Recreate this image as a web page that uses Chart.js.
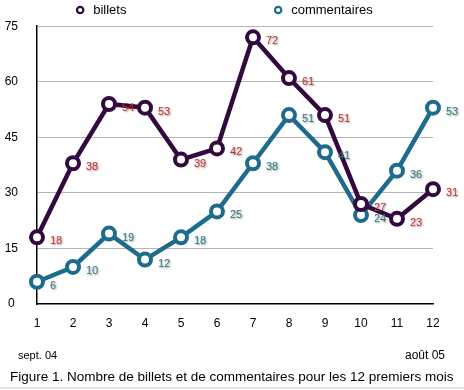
<!DOCTYPE html>
<html>
<head>
<meta charset="utf-8">
<script src="https://cdn.jsdelivr.net/npm/chart.js@4.4.1/dist/chart.umd.min.js"></script>
<style>
    body { margin: 0; background: #fff; }
    .wrap { position: relative; width: 464px; height: 390px; font-family: 'Liberation Sans', Arial, sans-serif; color: #000; }
    .note { position: absolute; font-size: 11px; }
    .caption { position: absolute; left: 10px; top: 369px; font-size: 13.5px; }
    .foot { position: absolute; left: 0; right: 0; top: 387px; height: 2px; background: #e4e4e4; }
</style>
</head>
<body>
<div class="wrap">
    <canvas id="chart" width="464" height="390"></canvas>
    <div class="note" style="left: 18px; top: 349px;">sept. 04</div>
    <div class="note" style="right: 19px; top: 348px; font-size: 12px;">août 05</div>
    <div class="caption">Figure 1. Nombre de billets et de commentaires pour les 12 premiers mois</div>
    <div class="foot"></div>
</div>
<script>
const months = ['1', '2', '3', '4', '5', '6', '7', '8', '9', '10', '11', '12'];
const billets = [18, 38, 54, 53, 39, 42, 72, 61, 51, 27, 23, 31];
const commentaires = [6, 10, 19, 12, 18, 25, 38, 51, 41, 24, 36, 53];
const yTicks = [0, 15, 30, 45, 60, 75];

const billetsColor = '#330a3f';
const commentairesColor = '#1f6b8e';
const fontFamily = "'Liberation Sans', Arial, sans-serif";

const legendPlugin = {
    id: 'splitLegend',
    afterDraw(chart) {
        const { ctx, chartArea } = chart;
        const w = chartArea.right - chartArea.left;
        ctx.save();
        ctx.font = `13px ${fontFamily}`;
        ctx.textBaseline = 'middle';
        ctx.textAlign = 'left';
        chart.data.datasets.forEach((ds, i) => {
            const x = chartArea.left + w * (0.109 + i * 0.5);
            const y = 10;
            ctx.beginPath();
            ctx.arc(x, y, 3.2, 0, Math.PI * 2);
            ctx.fillStyle = '#fff';
            ctx.fill();
            ctx.lineWidth = 2.2;
            ctx.strokeStyle = ds.borderColor;
            ctx.stroke();
            ctx.fillStyle = '#000';
            ctx.fillText(ds.label, x + 13, y);
        });
        ctx.restore();
    },
};

const valueLabelsPlugin = {
    id: 'valueLabels',
    afterDatasetsDraw(chart) {
        const { ctx } = chart;
        ctx.save();
        ctx.font = `11px ${fontFamily}`;
        ctx.textAlign = 'left';
        ctx.textBaseline = 'middle';
        ctx.shadowColor = 'rgba(0, 0, 0, 0.45)';
        ctx.shadowBlur = 2;
        ctx.shadowOffsetX = 1;
        ctx.shadowOffsetY = 1;
        chart.data.datasets.forEach((ds, i) => {
            const meta = chart.getDatasetMeta(i);
            ctx.fillStyle = ds.labelColor;
            meta.data.forEach((pt, j) => {
                ctx.fillText(String(ds.data[j]), pt.x + 13, pt.y + 4);
            });
        });
        ctx.restore();
    },
};

const lineStyle = {
    borderWidth: 4.5,
    pointRadius: 6,
    pointBorderWidth: 4,
    pointBackgroundColor: '#fff',
    tension: 0,
    clip: false,
};

new Chart(document.getElementById('chart'), {
    type: 'line',
    data: {
        labels: months,
        datasets: [
            {
                ...lineStyle,
                label: 'billets',
                data: billets,
                borderColor: billetsColor,
                pointBorderColor: billetsColor,
                labelColor: '#cf2b2b',
            },
            {
                ...lineStyle,
                label: 'commentaires',
                data: commentaires,
                borderColor: commentairesColor,
                pointBorderColor: commentairesColor,
                labelColor: '#2c7a84',
            },
        ],
    },
    options: {
        responsive: false,
        animation: false,
        events: [],
        layout: {
            padding: { left: 0, top: 26, right: 31, bottom: 56 },
        },
        scales: {
            x: {
                offset: false,
                grid: { display: false, drawTicks: false },
                border: { display: true, color: '#000', width: 1.5 },
                ticks: {
                    color: '#000',
                    font: { family: fontFamily, size: 12 },
                    padding: 12,
                    maxRotation: 0,
                    autoSkip: false,
                },
                afterFit(scale) { scale.height = 30; },
            },
            y: {
                min: 0,
                max: 75,
                afterBuildTicks(scale) {
                    scale.ticks = yTicks.map((v) => ({ value: v }));
                },
                grid: {
                    drawTicks: false,
                    color: (c) => (c.tick && c.tick.value === 0 ? 'rgba(0,0,0,0)' : '#b4b4b4'),
                    lineWidth: 1,
                },
                border: { display: true, color: '#000', width: 1.5 },
                ticks: {
                    color: '#000',
                    font: { family: fontFamily, size: 12 },
                    crossAlign: 'center',
                    padding: 19,
                },
                afterFit(scale) { scale.width = 37; },
            },
        },
        plugins: {
            legend: { display: false },
            tooltip: { enabled: false },
        },
    },
    plugins: [legendPlugin, valueLabelsPlugin],
});
</script>
</body>
</html>
